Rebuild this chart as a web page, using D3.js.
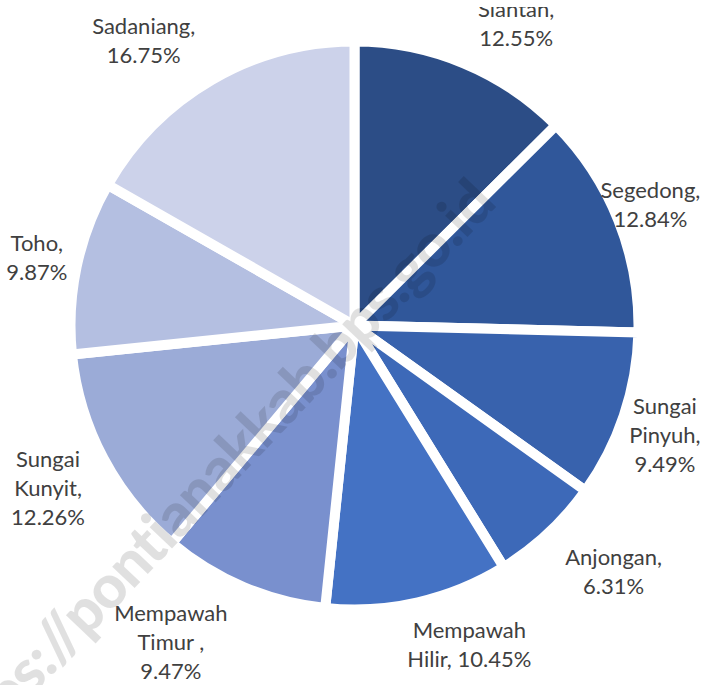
<!DOCTYPE html>
<html>
<head>
<meta charset="utf-8">
<script src="https://cdn.jsdelivr.net/npm/d3@7"></script>
<style>
  html, body { margin: 0; padding: 0; background: #fff; }
  svg { display: block; }
  .label { font-family: Lato, 'Open Sans', sans-serif; font-size: 22px; fill: #404040; }
  .watermark { font-family: Lato, sans-serif; font-weight: 900; font-size: 60px; fill: #000; fill-opacity: 0.12; }
</style>
</head>
<body>
<main></main>
<script>
// Data
const CATEGORIES = ['Siantan', 'Segedong', 'Sungai Pinyuh', 'Anjongan', 'Mempawah Hilir',
  'Mempawah Timur ', 'Sungai Kunyit', 'Toho', 'Sadaniang'];
const SHARES = [12.55, 12.84, 9.49, 6.31, 10.45, 9.47, 12.26, 9.87, 16.75];
// how each label wraps ({v} = share)
const LABEL_WRAP = ['Siantan,|{v}', 'Segedong,|{v}', 'Sungai|Pinyuh,|{v}', 'Anjongan,|{v}',
  'Mempawah|Hilir, {v}', 'Mempawah|Timur ,|{v}', 'Sungai|Kunyit,|{v}', 'Toho,|{v}', 'Sadaniang,|{v}'];
const COLORS = ['#2c4d86', '#30579a', '#3862ad', '#3d69b8', '#4472c4', '#7990ce', '#9babd7', '#b4bfe1', '#ccd2ea'];

// Layout
const WIDTH = 703;
const HEIGHT = 685;
const CX = 354.5;
const CY = 325.5;
const RADIUS = 284;
const LABEL_R = 340;
const LINE_H = 29;
const PLOT_TOP = 7; // chart area top edge, labels above it are cut
// best-fit label nudges (px) off the mid-angle point
const LABEL_NUDGE = [[31, 12], [-20, 5], [-12, 2], [27, -2], [39, -12], [-51, 4], [-6, 4], [15, 3], [-40, 9]];

const data = CATEGORIES.map((name, i) => ({ name, value: SHARES[i], i }));

const svg = d3.select('main')
  .append('svg')
  .attr('width', WIDTH)
  .attr('height', HEIGHT);

svg.append('clipPath')
  .attr('id', 'plot-clip')
  .append('rect')
  .attr('x', 0)
  .attr('y', PLOT_TOP)
  .attr('width', WIDTH)
  .attr('height', HEIGHT - PLOT_TOP);

const pie = d3.pie().value(d => d.value).sort(null);
const arc = d3.arc().innerRadius(0).outerRadius(RADIUS);
const labelArc = d3.arc().innerRadius(LABEL_R).outerRadius(LABEL_R);

const g = svg.append('g')
  .attr('clip-path', 'url(#plot-clip)')
  .append('g')
  .attr('transform', `translate(${CX},${CY})`);

// Slices
g.selectAll('path')
  .data(pie(data))
  .join('path')
  .attr('d', arc)
  .attr('fill', d => COLORS[d.data.i])
  .attr('stroke', '#fff')
  .attr('stroke-width', 10)
  .attr('stroke-linejoin', 'round');

// Labels
const labels = g.selectAll('text.label')
  .data(pie(data))
  .join('text')
  .attr('class', 'label')
  .attr('text-anchor', 'middle')
  .attr('transform', d => {
    const [x, y] = labelArc.centroid(d);
    const [nx, ny] = LABEL_NUDGE[d.data.i];
    return `translate(${x + nx},${y + ny})`;
  });

labels.each(function (d) {
  const lines = LABEL_WRAP[d.data.i].replace('{v}', d.data.value.toFixed(2) + '%').split('|');
  const top = -(lines.length - 1) * LINE_H / 2 + 7.5;
  d3.select(this).selectAll('tspan')
    .data(lines)
    .join('tspan')
    .attr('x', 0)
    .attr('y', (_, k) => top + k * LINE_H)
    .text(t => t);
});

// Watermark
svg.append('text')
  .attr('class', 'watermark')
  .attr('text-anchor', 'end')
  .attr('transform', 'translate(498,205) rotate(-46.5)')
  .attr('letter-spacing', -1)
  .text('https://pontianakkab.bps.go.id');
</script>
</body>
</html>
